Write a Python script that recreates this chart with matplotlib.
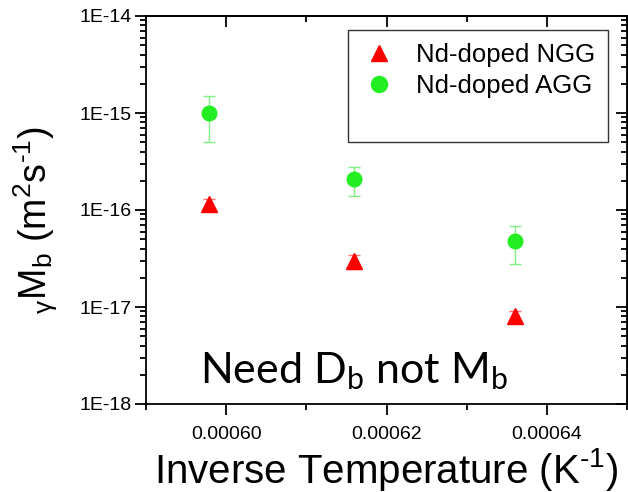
import matplotlib
matplotlib.use('Agg')
import matplotlib.pyplot as plt
from matplotlib.lines import Line2D
from matplotlib.ticker import FixedLocator, LogLocator, NullFormatter, FuncFormatter

plt.rcParams['font.family'] = ['Liberation Sans', 'DejaVu Sans']
plt.rcParams['mathtext.fontset'] = 'custom'
plt.rcParams['mathtext.rm'] = 'Liberation Sans'
plt.rcParams['mathtext.it'] = 'Liberation Sans'
plt.rcParams['xtick.labelsize'] = 14
plt.rcParams['ytick.labelsize'] = 14

# inverse temperature (1/K)
inv_t_ngg = [0.0005978, 0.000616, 0.000636]
inv_t_agg = [0.0005978, 0.000616, 0.000636]

# reduced mobility gamma*Mb (m^2/s) with error bars
mb_ngg = [1.15e-16, 2.95e-17, 8.0e-18]
err_ngg = [0.15e-16, 0.5e-17, 1.2e-18]
mb_agg = [1.0e-15, 2.1e-16, 4.8e-17]
err_agg = [5.0e-16, 0.7e-16, 2.0e-17]

x_major = [0.00060, 0.00062, 0.00064]
x_minor = [0.00059, 0.00061, 0.00063, 0.00065]
y_ticks = [1e-18, 1e-17, 1e-16, 1e-15, 1e-14]
y_labels = ['1E-18', '1E-17', '1E-16', '1E-15', '1E-14']

fig = plt.figure(figsize=(6.28, 4.92), dpi=100)
ax = fig.add_axes([146 / 628, 88 / 492, 481 / 628, 388 / 492])

ax.errorbar(inv_t_ngg, mb_ngg, yerr=err_ngg, fmt='none', ecolor='#ff7070',
            elinewidth=1, capsize=4, capthick=1)
ax.errorbar(inv_t_agg, mb_agg, yerr=err_agg, fmt='none', ecolor='#80f080',
            elinewidth=1, capsize=4, capthick=1)
ax.plot(inv_t_ngg, mb_ngg, '^', color='#ff0000', ms=11, mec='#ff0000',
        ls='none', label='Nd-doped NGG')
ax.plot(inv_t_agg, mb_agg, 'o', color='#22ee22', ms=10.5, mec='#22ee22',
        ls='none', label='Nd-doped AGG')

ax.set_yscale('log')
ax.set_xlim(0.00059, 0.00065)
ax.set_ylim(1e-18, 1e-14)

ax.xaxis.set_major_locator(FixedLocator(x_major))
ax.xaxis.set_minor_locator(FixedLocator(x_minor))
ax.xaxis.set_major_formatter(FuncFormatter(lambda v, p: f'{v:.5f}'))
ax.yaxis.set_major_locator(FixedLocator(y_ticks))
ax.set_yticklabels(y_labels)
ax.yaxis.set_minor_locator(LogLocator(base=10, subs=range(2, 10)))
ax.yaxis.set_minor_formatter(NullFormatter())

for s in ax.spines.values():
    s.set_linewidth(1.3)

ax.tick_params(axis='both', which='major', width=1.3, length=8, direction='out')
ax.tick_params(axis='both', which='minor', width=1.3, length=4, direction='out')
ax.tick_params(axis='x', which='both', pad=8)
ax.tick_params(axis='y', which='both', pad=2)

# inward ticks on top and right
twx = ax.secondary_xaxis('top')
twx.xaxis.set_major_locator(FixedLocator(x_major))
twx.xaxis.set_minor_locator(FixedLocator(x_minor))
twx.tick_params(which='major', direction='in', length=8, width=1.3, labeltop=False)
twx.tick_params(which='minor', direction='in', length=4, width=1.3)
twx.spines['top'].set_linewidth(1.3)
twy = ax.secondary_yaxis('right')
twy.yaxis.set_major_locator(FixedLocator(y_ticks))
twy.yaxis.set_minor_locator(LogLocator(base=10, subs=range(2, 10)))
twy.yaxis.set_minor_formatter(NullFormatter())
twy.tick_params(which='major', direction='in', length=8, width=1.3, labelright=False)
twy.tick_params(which='minor', direction='in', length=4, width=1.3)

ax.set_xlabel('Inverse Temperature (K$^\\mathregular{\u20101}$)', fontsize=29, labelpad=2)
ax.set_ylabel('$_\\gamma\\mathregular{M_b\\ (m^2s^{\u20101})}$', fontsize=27)
ax.yaxis.set_label_coords(-0.179, 0.474)

handles, labels = ax.get_legend_handles_labels()
handles.append(Line2D([], [], ls='none'))
labels.append(' ')
leg = ax.legend(handles, labels, loc='upper right', bbox_to_anchor=(0.9605, 0.964),
                fontsize=18.5, frameon=True, fancybox=False, edgecolor='black',
                handlelength=1.4, handletextpad=0.75, borderpad=0.5,
                labelspacing=0.28, numpoints=1, markerscale=1.1, borderaxespad=0)
leg.get_frame().set_linewidth(1.0)

ax.text(0.000616, 1.65e-18, 'Need D$_\\mathregular{b}$ not M$_\\mathregular{b}$', fontsize=31,
        ha='center', va='baseline', family='Lato')

fig.savefig('out.png', dpi=100)
